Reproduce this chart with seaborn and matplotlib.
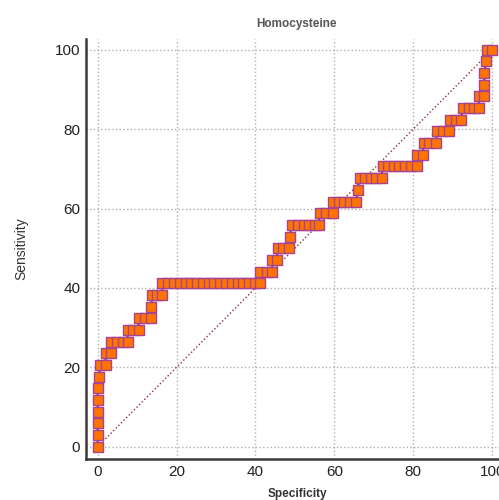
import numpy as np
import pandas as pd
import matplotlib
matplotlib.use("Agg")
import matplotlib.pyplot as plt
import seaborn as sns
from matplotlib.ticker import MultipleLocator

# ROC points, one list of (100 - specificity) values per sensitivity level
n_pos = 34
runs = [
    [0], [0], [0], [0], [0], [0], [0.3],
    [0.7, 2.0],
    [2.0, 3.5],
    [3.5, 5.0, 6.4, 7.6],
    [7.6, 9.0, 10.4],
    [10.4, 11.9, 13.4],
    [13.6],
    [13.8, 15.1, 16.4],
    [16.4, 17.9, 19.3, 20.8, 22.3, 23.7, 25.2, 26.7, 28.1, 29.6,
     31.1, 32.5, 34.0, 35.5, 36.9, 38.4, 39.9, 41.2],
    [41.2, 42.8, 44.3],
    [44.3, 45.4],
    [45.6, 46.9, 48.4],
    [48.7],
    [49.2, 50.7, 52.2, 53.6, 55.1, 56.0],
    [56.3, 57.8, 59.6],
    [59.6, 61.1, 62.5, 64.0, 65.5],
    [65.9],
    [66.4, 67.8, 69.2, 70.6, 72.0],
    [72.2, 73.6, 75.1, 76.5, 78.0, 79.5, 80.9],
    [80.9, 82.4],
    [82.6, 84.1, 85.8],
    [86.0, 87.5, 89.0],
    [89.2, 90.7, 92.2],
    [92.5, 94.0, 95.5, 96.6],
    [96.7, 97.8],
    [98.0],
    [98.0],
    [98.4],
    [98.8, 100.0],
]

spec = []
sens = []
for k, xs in enumerate(runs):
    for x in xs:
        spec.append(x)
        sens.append(100.0 * k / n_pos)
roc = pd.DataFrame({"Specificity": spec, "Sensitivity": sens})
diag = pd.DataFrame({"x": [0, 100], "y": [0, 100]})

sns.set_style("white")
plt.rcParams["font.family"] = ["Liberation Sans", "DejaVu Sans"]

fig = plt.figure(figsize=(4.99, 5.0), dpi=100)
ax = fig.add_axes([0.172, 0.082, 0.846, 0.84])

ax.grid(True, which="major", color="#b0b0b0", linestyle=":", linewidth=1.0)
ax.set_axisbelow(True)

sns.lineplot(data=diag, x="x", y="y", ax=ax, color="#8b2f3a",
             linestyle=":", linewidth=1.0, zorder=2)
sns.lineplot(data=roc, x="Specificity", y="Sensitivity", ax=ax, sort=False,
             estimator=None, color="#5b2a9a", linewidth=1.5, zorder=3)
sns.scatterplot(data=roc, x="Specificity", y="Sensitivity", ax=ax, marker="s",
                s=46, color="#ff7300", edgecolor="#a8438f", linewidth=1.0,
                zorder=4)

ax.set_xlim(-3, 104)
ax.set_ylim(-3.1, 102.7)
ax.xaxis.set_major_locator(MultipleLocator(20))
ax.yaxis.set_major_locator(MultipleLocator(20))
ax.xaxis.set_minor_locator(MultipleLocator(5))
ax.yaxis.set_minor_locator(MultipleLocator(5))

for side in ["top", "right"]:
    ax.spines[side].set_visible(False)
for side in ["left", "bottom"]:
    ax.spines[side].set_linewidth(1.8)
    ax.spines[side].set_color("#3a3a3a")

ax.tick_params(which="major", direction="in", length=8, width=1.8,
               color="#3a3a3a", labelsize=11, labelcolor="#222222", pad=4)
ax.tick_params(which="minor", direction="in", length=4, width=1.0,
               color="#3a3a3a")

ax.set_xlabel("Specificity", fontsize=8.5, fontweight="bold",
              color="#333333", labelpad=7)
ax.set_ylabel("Sensitivity", fontsize=10, color="#333333", labelpad=19)
ax.set_title("Homocysteine", fontsize=8.5, fontweight="bold",
             color="#555555", pad=9)

fig.savefig("out.png", dpi=100)
plt.close()
